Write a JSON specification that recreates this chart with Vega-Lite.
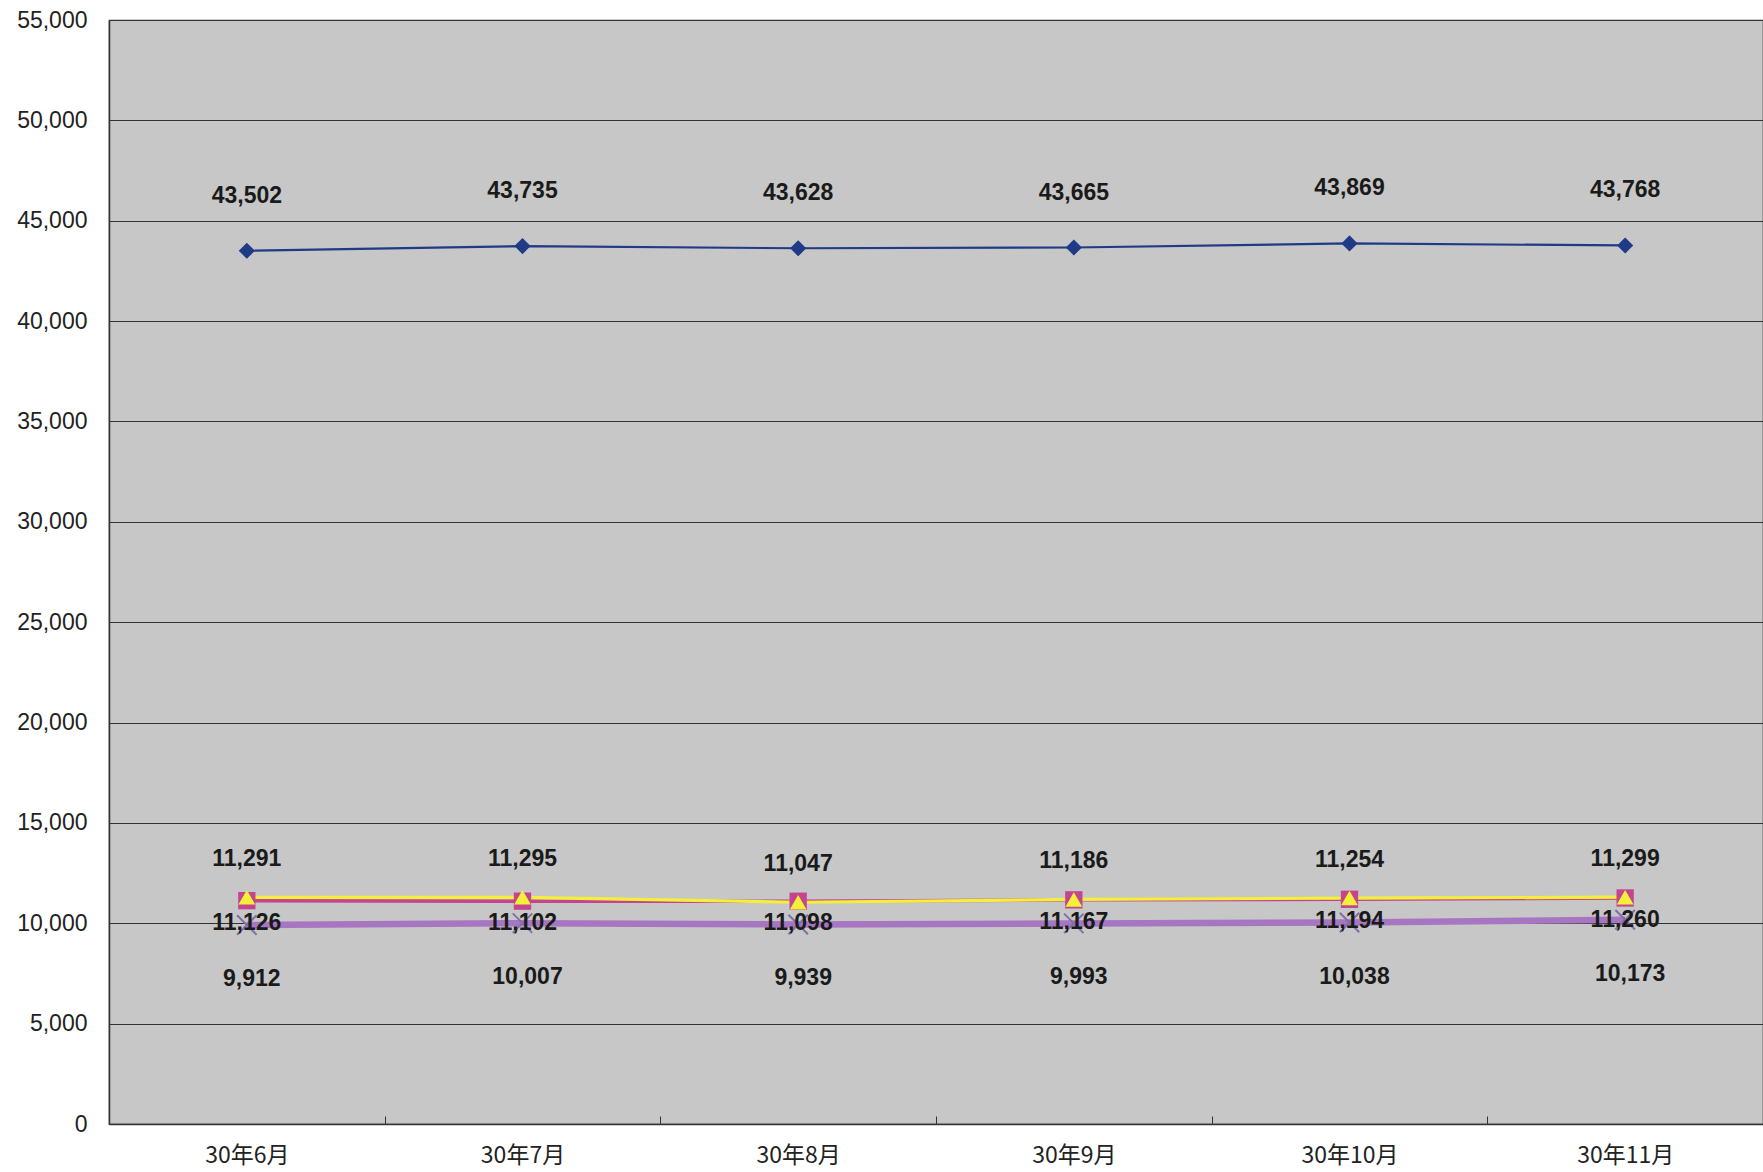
{
  "$schema": "https://vega.github.io/schema/vega-lite/v6.json",
  "width": 1654,
  "height": 1104,
  "autosize": {"type": "none"},
  "padding": {"left": 109, "top": 20, "right": 0, "bottom": 48},
  "background": "white",
  "config": {
    "view": {"fill": "#c7c7c7", "stroke": "#333333", "strokeWidth": 1.2},
    "axis": {"labelFont": "Liberation Sans", "labelColor": "#222222", "domainColor": "#333333"}
  },
  "data": {
    "values": [
      {"month": "30年6月", "series": "系列1", "value": 43502},
      {"month": "30年7月", "series": "系列1", "value": 43735},
      {"month": "30年8月", "series": "系列1", "value": 43628},
      {"month": "30年9月", "series": "系列1", "value": 43665},
      {"month": "30年10月", "series": "系列1", "value": 43869},
      {"month": "30年11月", "series": "系列1", "value": 43768},
      {"month": "30年6月", "series": "系列4", "value": 9912},
      {"month": "30年7月", "series": "系列4", "value": 10007},
      {"month": "30年8月", "series": "系列4", "value": 9939},
      {"month": "30年9月", "series": "系列4", "value": 9993},
      {"month": "30年10月", "series": "系列4", "value": 10038},
      {"month": "30年11月", "series": "系列4", "value": 10173},
      {"month": "30年6月", "series": "系列2", "value": 11126},
      {"month": "30年7月", "series": "系列2", "value": 11102},
      {"month": "30年8月", "series": "系列2", "value": 11098},
      {"month": "30年9月", "series": "系列2", "value": 11167},
      {"month": "30年10月", "series": "系列2", "value": 11194},
      {"month": "30年11月", "series": "系列2", "value": 11260},
      {"month": "30年6月", "series": "系列3", "value": 11291},
      {"month": "30年7月", "series": "系列3", "value": 11295},
      {"month": "30年8月", "series": "系列3", "value": 11047},
      {"month": "30年9月", "series": "系列3", "value": 11186},
      {"month": "30年10月", "series": "系列3", "value": 11254},
      {"month": "30年11月", "series": "系列3", "value": 11299}
    ]
  },
  "encoding": {
    "x": {
      "field": "month", "type": "ordinal", "sort": null,
      "scale": {"type": "band", "paddingInner": 0, "paddingOuter": 0},
      "axis": {
        "title": null, "labelAngle": 0, "labelFont": "Noto Sans CJK JP", "labelFontSize": 23,
        "labelPadding": 28, "tickBand": "extent", "tickSize": -8, "tickColor": "#333333",
        "domainWidth": 1.5, "grid": false
      }
    },
    "y": {
      "field": "value", "type": "quantitative",
      "scale": {"domain": [0, 55000], "nice": false},
      "axis": {
        "title": null, "values": [0, 5000, 10000, 15000, 20000, 25000, 30000, 35000, 40000, 45000, 50000, 55000],
        "format": ",.0f", "labelFontSize": 23, "labelPadding": 22, "ticks": false,
        "gridColor": "#333333", "gridWidth": 1, "gridOpacity": 1, "domainWidth": 1.5
      }
    }
  },
  "layer": [
    {
      "transform": [{"filter": "datum.series === '系列1'"}],
      "mark": {"type": "line", "color": "#1f3a86", "strokeWidth": 2.2}
    },
    {
      "transform": [{"filter": "datum.series === '系列4'"}],
      "mark": {"type": "line", "color": "#a676c2", "strokeWidth": 6.5}
    },
    {
      "transform": [{"filter": "datum.series === '系列2'"}],
      "mark": {"type": "line", "color": "#c4448f", "strokeWidth": 3.5}
    },
    {
      "transform": [{"filter": "datum.series === '系列3'"}],
      "mark": {"type": "line", "color": "#f4f03a", "strokeWidth": 3.2}
    },
    {
      "transform": [{"filter": "datum.series === '系列4'"}],
      "mark": {"type": "point", "shape": "M-1,-1L1,1M-1,1L1,-1", "size": 380, "filled": false, "stroke": "#7f6fae", "strokeWidth": 2, "opacity": 1}
    },
    {
      "transform": [{"filter": "datum.series === '系列1'"}],
      "mark": {"type": "point", "shape": "diamond", "size": 260, "filled": true, "color": "#1f3a86", "opacity": 1}
    },
    {
      "transform": [{"filter": "datum.series === '系列2'"}],
      "mark": {"type": "point", "shape": "square", "size": 300, "filled": true, "color": "#c4448f", "opacity": 1}
    },
    {
      "transform": [{"filter": "datum.series === '系列3'"}],
      "mark": {"type": "point", "shape": "triangle-up", "size": 280, "filled": true, "color": "#f4f03a", "opacity": 1}
    },
    {
      "transform": [{"filter": "datum.series === '系列1'"}],
      "mark": {"type": "text", "dy": -55, "font": "Liberation Sans", "fontWeight": "bold", "fontSize": 23, "color": "#1a1a1a"},
      "encoding": {"text": {"field": "value", "type": "quantitative", "format": ",.0f"}}
    },
    {
      "transform": [{"filter": "datum.series === '系列3'"}],
      "mark": {"type": "text", "dy": -38, "font": "Liberation Sans", "fontWeight": "bold", "fontSize": 23, "color": "#1a1a1a"},
      "encoding": {"text": {"field": "value", "type": "quantitative", "format": ",.0f"}}
    },
    {
      "transform": [{"filter": "datum.series === '系列2'"}],
      "mark": {"type": "text", "dy": 22, "font": "Liberation Sans", "fontWeight": "bold", "fontSize": 23, "color": "#1a1a1a"},
      "encoding": {"text": {"field": "value", "type": "quantitative", "format": ",.0f"}}
    },
    {
      "transform": [{"filter": "datum.series === '系列4'"}],
      "mark": {"type": "text", "dx": 5, "dy": 54, "font": "Liberation Sans", "fontWeight": "bold", "fontSize": 23, "color": "#1a1a1a"},
      "encoding": {"text": {"field": "value", "type": "quantitative", "format": ",.0f"}}
    }
  ]
}
